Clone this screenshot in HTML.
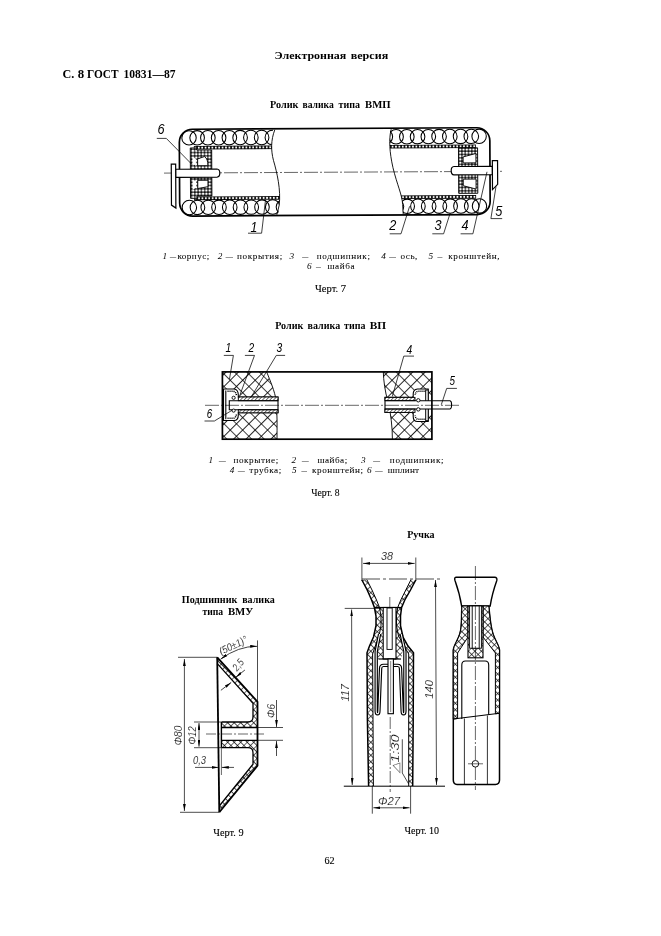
<!DOCTYPE html>
<html><head><meta charset="utf-8">
<style>
html,body{margin:0;padding:0;background:#fff;}
body{width:661px;height:936px;overflow:hidden;position:relative;}
svg{position:absolute;left:0;top:0;will-change:transform;}
</style></head><body>
<svg width="661" height="936" viewBox="0 0 661 936">

<defs>
 <pattern id="dots" width="3.3" height="3.3" patternUnits="userSpaceOnUse">
  <rect width="3.3" height="3.3" fill="#111"/>
  <circle cx="1.65" cy="1.65" r="1.3" fill="#fff"/>
 </pattern>
 <pattern id="dotsb" width="3.4" height="3.614" patternUnits="userSpaceOnUse" y="145.2">
  <rect width="3.4" height="3.614" fill="#000"/>
  <circle cx="1.7" cy="1.807" r="1.05" fill="#fff"/>
 </pattern>
 <pattern id="xh" width="8.8" height="8.8" patternUnits="userSpaceOnUse" patternTransform="rotate(45)">
  <rect width="8.8" height="8.8" fill="#fff"/>
  <path d="M0,0 L8.8,0 M0,0 L0,8.8" stroke="#000" stroke-width="1.7"/>
 </pattern>
 <pattern id="xs" width="4.6" height="4.6" patternUnits="userSpaceOnUse" patternTransform="rotate(45)">
  <rect width="4.6" height="4.6" fill="#fff"/>
  <path d="M0,0 L4.6,0 M0,0 L0,4.6" stroke="#000" stroke-width="1.15"/>
 </pattern>
 <pattern id="hs" width="2.6" height="2.6" patternUnits="userSpaceOnUse" patternTransform="rotate(45)">
  <rect width="2.6" height="2.6" fill="#fff"/>
  <path d="M0,0 L0,2.6" stroke="#000" stroke-width="1.1"/>
 </pattern>
 <marker id="ar" viewBox="0 0 10 4" refX="10" refY="2" markerWidth="7" markerHeight="2.8" orient="auto" markerUnits="userSpaceOnUse">
  <path d="M0,0 L10,2 L0,4 z" fill="#000"/>
 </marker>
 <marker id="al" viewBox="0 0 10 4" refX="0" refY="2" markerWidth="7" markerHeight="2.8" orient="auto" markerUnits="userSpaceOnUse">
  <path d="M10,0 L0,2 L10,4 z" fill="#000"/>
 </marker>
</defs>

<text x='274.5' y='58.9' font-size='11.3' font-family='"Liberation Serif", serif' font-weight='bold' textLength='71.8' lengthAdjust='spacingAndGlyphs'>Электронная</text>
<text x='350.7' y='58.9' font-size='11.3' font-family='"Liberation Serif", serif' font-weight='bold' textLength='37.5' lengthAdjust='spacingAndGlyphs'>версия</text>
<text x='62.5' y='77.9' font-size='12' font-family='"Liberation Serif", serif' font-weight='bold' textLength='11.8' lengthAdjust='spacingAndGlyphs'>С.</text>
<text x='77.8' y='77.9' font-size='12' font-family='"Liberation Serif", serif' font-weight='bold' textLength='6.4' lengthAdjust='spacingAndGlyphs'>8</text>
<text x='87' y='77.9' font-size='12' font-family='"Liberation Serif", serif' font-weight='bold' textLength='31.6' lengthAdjust='spacingAndGlyphs'>ГОСТ</text>
<text x='123.5' y='77.9' font-size='12' font-family='"Liberation Serif", serif' font-weight='bold' textLength='52.1' lengthAdjust='spacingAndGlyphs'>10831—87</text>
<text x='270' y='107.8' font-size='10.8' font-family='"Liberation Serif", serif' font-weight='bold' textLength='28.5' lengthAdjust='spacingAndGlyphs'>Ролик</text>
<text x='302.5' y='107.8' font-size='10.8' font-family='"Liberation Serif", serif' font-weight='bold' textLength='31.3' lengthAdjust='spacingAndGlyphs'>валика</text>
<text x='338.5' y='107.8' font-size='10.8' font-family='"Liberation Serif", serif' font-weight='bold' textLength='21.5' lengthAdjust='spacingAndGlyphs'>типа</text>
<text x='365' y='107.8' font-size='10.8' font-family='"Liberation Serif", serif' font-weight='bold' textLength='25.6' lengthAdjust='spacingAndGlyphs'>ВМП</text>
<g transform="rotate(-0.3 335 172)">
<clipPath id="clipL"><path d="M150,120 L275,120 C271,140 271,150 273.5,160 C277,172 281,190 279,205 L276.6,225 L150,225 Z"/></clipPath>
<clipPath id="clipR"><path d="M520,120 L391.4,120 C389,140 389.5,152 393,168 C397,185 402,195 402.5,205 L403,225 L520,225 Z"/></clipPath>
<g clip-path="url(#clipL)">
<circle cx="189.2" cy="137.1" r="7.2" fill="none" stroke="#000" stroke-width="1.05"/><ellipse cx="197.30" cy="137.1" rx="7.3" ry="7.2" fill="none" stroke="#000" stroke-width="1.05"/><ellipse cx="208.05" cy="137.1" rx="7.3" ry="7.2" fill="none" stroke="#000" stroke-width="1.05"/><ellipse cx="218.80" cy="137.1" rx="7.3" ry="7.2" fill="none" stroke="#000" stroke-width="1.05"/><ellipse cx="229.55" cy="137.1" rx="7.3" ry="7.2" fill="none" stroke="#000" stroke-width="1.05"/><ellipse cx="240.30" cy="137.1" rx="7.3" ry="7.2" fill="none" stroke="#000" stroke-width="1.05"/><ellipse cx="251.05" cy="137.1" rx="7.3" ry="7.2" fill="none" stroke="#000" stroke-width="1.05"/><ellipse cx="261.80" cy="137.1" rx="7.3" ry="7.2" fill="none" stroke="#000" stroke-width="1.05"/><ellipse cx="272.55" cy="137.1" rx="7.3" ry="7.2" fill="none" stroke="#000" stroke-width="1.05"/><ellipse cx="283.30" cy="137.1" rx="7.3" ry="7.2" fill="none" stroke="#000" stroke-width="1.05"/>
<circle cx="189.2" cy="206.70000000000002" r="7.2" fill="none" stroke="#000" stroke-width="1.05"/><ellipse cx="197.30" cy="206.70000000000002" rx="7.3" ry="7.2" fill="none" stroke="#000" stroke-width="1.05"/><ellipse cx="208.05" cy="206.70000000000002" rx="7.3" ry="7.2" fill="none" stroke="#000" stroke-width="1.05"/><ellipse cx="218.80" cy="206.70000000000002" rx="7.3" ry="7.2" fill="none" stroke="#000" stroke-width="1.05"/><ellipse cx="229.55" cy="206.70000000000002" rx="7.3" ry="7.2" fill="none" stroke="#000" stroke-width="1.05"/><ellipse cx="240.30" cy="206.70000000000002" rx="7.3" ry="7.2" fill="none" stroke="#000" stroke-width="1.05"/><ellipse cx="251.05" cy="206.70000000000002" rx="7.3" ry="7.2" fill="none" stroke="#000" stroke-width="1.05"/><ellipse cx="261.80" cy="206.70000000000002" rx="7.3" ry="7.2" fill="none" stroke="#000" stroke-width="1.05"/><ellipse cx="272.55" cy="206.70000000000002" rx="7.3" ry="7.2" fill="none" stroke="#000" stroke-width="1.05"/><ellipse cx="283.30" cy="206.70000000000002" rx="7.3" ry="7.2" fill="none" stroke="#000" stroke-width="1.05"/>
<rect x="194" y="145.2" width="90" height="3.6" fill="url(#dotsb)"/>
<rect x="194" y="195.8" width="90" height="3.6" fill="url(#dotsb)"/>
</g>
<g clip-path="url(#clipR)">
<circle cx="479.3" cy="137.1" r="7.2" fill="none" stroke="#000" stroke-width="1.05"/><ellipse cx="471.50" cy="137.1" rx="7.3" ry="7.2" fill="none" stroke="#000" stroke-width="1.05"/><ellipse cx="460.75" cy="137.1" rx="7.3" ry="7.2" fill="none" stroke="#000" stroke-width="1.05"/><ellipse cx="450.00" cy="137.1" rx="7.3" ry="7.2" fill="none" stroke="#000" stroke-width="1.05"/><ellipse cx="439.25" cy="137.1" rx="7.3" ry="7.2" fill="none" stroke="#000" stroke-width="1.05"/><ellipse cx="428.50" cy="137.1" rx="7.3" ry="7.2" fill="none" stroke="#000" stroke-width="1.05"/><ellipse cx="417.75" cy="137.1" rx="7.3" ry="7.2" fill="none" stroke="#000" stroke-width="1.05"/><ellipse cx="407.00" cy="137.1" rx="7.3" ry="7.2" fill="none" stroke="#000" stroke-width="1.05"/><ellipse cx="396.25" cy="137.1" rx="7.3" ry="7.2" fill="none" stroke="#000" stroke-width="1.05"/><ellipse cx="385.50" cy="137.1" rx="7.3" ry="7.2" fill="none" stroke="#000" stroke-width="1.05"/>
<circle cx="479.3" cy="206.70000000000002" r="7.2" fill="none" stroke="#000" stroke-width="1.05"/><ellipse cx="471.50" cy="206.70000000000002" rx="7.3" ry="7.2" fill="none" stroke="#000" stroke-width="1.05"/><ellipse cx="460.75" cy="206.70000000000002" rx="7.3" ry="7.2" fill="none" stroke="#000" stroke-width="1.05"/><ellipse cx="450.00" cy="206.70000000000002" rx="7.3" ry="7.2" fill="none" stroke="#000" stroke-width="1.05"/><ellipse cx="439.25" cy="206.70000000000002" rx="7.3" ry="7.2" fill="none" stroke="#000" stroke-width="1.05"/><ellipse cx="428.50" cy="206.70000000000002" rx="7.3" ry="7.2" fill="none" stroke="#000" stroke-width="1.05"/><ellipse cx="417.75" cy="206.70000000000002" rx="7.3" ry="7.2" fill="none" stroke="#000" stroke-width="1.05"/><ellipse cx="407.00" cy="206.70000000000002" rx="7.3" ry="7.2" fill="none" stroke="#000" stroke-width="1.05"/><ellipse cx="396.25" cy="206.70000000000002" rx="7.3" ry="7.2" fill="none" stroke="#000" stroke-width="1.05"/><ellipse cx="385.50" cy="206.70000000000002" rx="7.3" ry="7.2" fill="none" stroke="#000" stroke-width="1.05"/>
<rect x="380" y="145.2" width="96" height="3.6" fill="url(#dotsb)"/>
<rect x="380" y="195.8" width="96" height="3.6" fill="url(#dotsb)"/>
</g>
<path d="M190.4,147.2 L196.8,147.2 L196.8,149.3 L211.8,149.3 L211.8,195.3 L196.8,195.3 L196.8,197.6 L190.4,197.6 Z" fill="url(#dots)" stroke="#000" stroke-width="0.9"/>
<path d="M192.6,156.2 L196,158 L196,165 L192.6,163 Z" fill="#fff" stroke="none"/>
<path d="M192.6,179.8 L196,179.8 L196,187 L192.6,189 Z" fill="#fff" stroke="none"/>
<path d="M197.7,158.2 L204.5,155.9 C207.2,157.5 207.9,160.5 207.9,165 L197.7,165 Z" fill="#fff" stroke="#000" stroke-width="0.9"/>
<path d="M197.7,179.6 L207.9,179.6 L207.9,186 L197.7,187.8 Z" fill="#fff" stroke="#000" stroke-width="0.9"/>
<path d="M458.6,148.6 L477.7,148.6 L477.7,194 L458.6,194 Z" fill="url(#dots)" stroke="#000" stroke-width="0.9"/>
<path d="M463.2,157.6 L476,154.2 L476,163.6 L463.2,163.6 Z" fill="#fff" stroke="#000" stroke-width="0.9"/>
<path d="M463.2,179.8 L476,179.8 L476,189.8 L463.2,186.4 Z" fill="#fff" stroke="#000" stroke-width="0.9"/>
<rect x="179.5" y="128.5" width="310.5" height="86.80000000000001" rx="13" ry="13" fill="none" stroke="#000" stroke-width="1.7"/>
<path d="M275,129.5 C271,140 271,150 273.5,160 C277,172 281,190 279,205 L276.6,214.5" fill="none" stroke="#000" stroke-width="0.9" />
<path d="M391.4,129.5 C389,140 389.5,152 393,168 C397,185 402,195 402.5,205 L403,214.5" fill="none" stroke="#000" stroke-width="0.9" />
<path d="M164,172.2 L504,172.2" stroke="#000" stroke-width="0.6" stroke-dasharray="14,2,2,2" fill="none"/>
<path d="M175.6,168.4 L217,168.4 Q219.8,168.6 219.8,172.5 Q219.8,176.4 217,176.6 L175.6,176.6 Z" fill="#fff" stroke="#000" stroke-width="1.2"/>
<path d="M492.4,167.1 L454,167.1 Q451.2,167.3 451.2,171.3 Q451.2,175.3 454,175.5 L492.4,175.5 Z" fill="#fff" stroke="#000" stroke-width="1.2"/>
<path d="M171.3,163.2 L175.7,163.2 L175.7,207.2 L171.3,204.2 Z" fill="#fff" stroke="#000" stroke-width="1.2"/>
<path d="M492.4,161.4 L497.6,161.4 L497.6,185.2 L492.4,190.4 Z" fill="#fff" stroke="#000" stroke-width="1.2"/>
</g>
<text x='0' y='0' font-size='15.5' font-family='"Liberation Sans", sans-serif' font-style='italic' fill='#000' transform='translate(157.6,134.4) scale(0.82,1)'>6</text>
<text x='0' y='0' font-size='15' font-family='"Liberation Sans", sans-serif' font-style='italic' fill='#000' transform='translate(250.5,231.6) scale(0.82,1)'>1</text>
<text x='0' y='0' font-size='15.5' font-family='"Liberation Sans", sans-serif' font-style='italic' fill='#000' transform='translate(389.2,230.2) scale(0.82,1)'>2</text>
<text x='0' y='0' font-size='15.5' font-family='"Liberation Sans", sans-serif' font-style='italic' fill='#000' transform='translate(434.6,230.2) scale(0.82,1)'>3</text>
<text x='0' y='0' font-size='15.5' font-family='"Liberation Sans", sans-serif' font-style='italic' fill='#000' transform='translate(461.6,230.2) scale(0.82,1)'>4</text>
<text x='0' y='0' font-size='15.5' font-family='"Liberation Sans", sans-serif' font-style='italic' fill='#000' transform='translate(495.2,215.9) scale(0.82,1)'>5</text>
<path d="M156.80,138.40 L166.30,138.40 L192.00,164.50" fill="none" stroke="#000" stroke-width="0.75" />
<path d="M248.00,233.20 L261.60,233.20 L265.50,200.00" fill="none" stroke="#000" stroke-width="0.75" />
<path d="M389.70,233.80 L401.00,233.80 L409.60,206.30" fill="none" stroke="#000" stroke-width="0.75" />
<path d="M432.30,233.80 L443.60,233.80 L450.20,213.00" fill="none" stroke="#000" stroke-width="0.75" />
<path d="M460.60,233.80 L472.90,233.80 L487.00,171.80" fill="none" stroke="#000" stroke-width="0.75" />
<path d="M502.20,218.60 L490.90,218.60 L496.00,186.50" fill="none" stroke="#000" stroke-width="0.75" />
<text x='162.6' y='259.3' font-size='9.2' font-family='"Liberation Serif", serif' font-style='italic'>1</text>
<text x='170' y='259.3' font-size='9.2' font-family='"Liberation Serif", serif' stroke='#000' stroke-width='0.06' textLength='6.0' lengthAdjust='spacingAndGlyphs'>–</text>
<text x='177.4' y='259.3' font-size='9.2' font-family='"Liberation Serif", serif' stroke='#000' stroke-width='0.06' textLength='31.8' lengthAdjust='spacing'>корпус;</text>
<text x='217.8' y='259.3' font-size='9.2' font-family='"Liberation Serif", serif' font-style='italic'>2</text>
<text x='225.8' y='259.3' font-size='9.2' font-family='"Liberation Serif", serif' stroke='#000' stroke-width='0.06' textLength='7.1' lengthAdjust='spacingAndGlyphs'>–</text>
<text x='237' y='259.3' font-size='9.2' font-family='"Liberation Serif", serif' stroke='#000' stroke-width='0.06' textLength='45.2' lengthAdjust='spacing'>покрытия;</text>
<text x='289.6' y='259.3' font-size='9.2' font-family='"Liberation Serif", serif' font-style='italic'>3</text>
<text x='302.3' y='259.3' font-size='9.2' font-family='"Liberation Serif", serif' stroke='#000' stroke-width='0.06' textLength='6.0' lengthAdjust='spacingAndGlyphs'>–</text>
<text x='316.8' y='259.3' font-size='9.2' font-family='"Liberation Serif", serif' stroke='#000' stroke-width='0.06' textLength='53.2' lengthAdjust='spacing'>подшипник;</text>
<text x='381.2' y='259.3' font-size='9.2' font-family='"Liberation Serif", serif' font-style='italic'>4</text>
<text x='389.2' y='259.3' font-size='9.2' font-family='"Liberation Serif", serif' stroke='#000' stroke-width='0.06' textLength='6.6' lengthAdjust='spacingAndGlyphs'>–</text>
<text x='400.5' y='259.3' font-size='9.2' font-family='"Liberation Serif", serif' stroke='#000' stroke-width='0.06' textLength='16.9' lengthAdjust='spacing'>ось,</text>
<text x='428.6' y='259.3' font-size='9.2' font-family='"Liberation Serif", serif' font-style='italic'>5</text>
<text x='437.5' y='259.3' font-size='9.2' font-family='"Liberation Serif", serif' stroke='#000' stroke-width='0.06' textLength='4.8' lengthAdjust='spacingAndGlyphs'>–</text>
<text x='448.2' y='259.3' font-size='9.2' font-family='"Liberation Serif", serif' stroke='#000' stroke-width='0.06' textLength='51.4' lengthAdjust='spacing'>кронштейн,</text>
<text x='307' y='269.2' font-size='9.2' font-family='"Liberation Serif", serif' font-style='italic'>6</text>
<text x='316' y='269.2' font-size='9.2' font-family='"Liberation Serif", serif' stroke='#000' stroke-width='0.06' textLength='4.8' lengthAdjust='spacingAndGlyphs'>–</text>
<text x='327.4' y='269.2' font-size='9.2' font-family='"Liberation Serif", serif' stroke='#000' stroke-width='0.06' textLength='27.1' lengthAdjust='spacing'>шайба</text>
<text x="315" y="292.4" font-size="10.5" font-family='"Liberation Serif", serif' textLength="31" lengthAdjust="spacingAndGlyphs" stroke="#000" stroke-width="0.12" >Черт. 7</text>
<text x='275.2' y='328.9' font-size='10.8' font-family='"Liberation Serif", serif' font-weight='bold' textLength='28.2' lengthAdjust='spacingAndGlyphs'>Ролик</text>
<text x='307.6' y='328.9' font-size='10.8' font-family='"Liberation Serif", serif' font-weight='bold' textLength='32.6' lengthAdjust='spacingAndGlyphs'>валика</text>
<text x='344' y='328.9' font-size='10.8' font-family='"Liberation Serif", serif' font-weight='bold' textLength='21.4' lengthAdjust='spacingAndGlyphs'>типа</text>
<text x='369.8' y='328.9' font-size='10.8' font-family='"Liberation Serif", serif' font-weight='bold' textLength='16.4' lengthAdjust='spacingAndGlyphs'>ВП</text>
<path d="M222.4,371.9 L266.6,371.9 C270,380 275,392 276,400 C277.5,415 277,428 277,439.2 L222.4,439.2 Z" fill="url(#xh)" stroke="none"/>
<path d="M431.9,371.9 L383.3,371.9 C383.5,380 385,392 388,401.5 C391,414 392.4,428 392.4,439.2 L431.9,439.2 Z" fill="url(#xh)" stroke="none"/>
<path d="M266.6,371.9 C270,380 275,392 276,400 C277.5,415 277,428 277,439.2" fill="none" stroke="#000" stroke-width="0.9" />
<path d="M383.3,371.9 C383.5,380 385,392 388,401.5 C391,414 392.4,428 392.4,439.2" fill="none" stroke="#000" stroke-width="0.9" />
<path d="M223.5,389 L234,389 Q238.3,389.5 238.3,395 L238.3,397 L278,397 L278,412.8 L238.3,412.8 L238.3,415 Q238.3,420.5 234,420.5 L223.5,420.5 Z" fill="#fff" stroke="#000" stroke-width="1.1"/>
<path d="M225.8,390.5 L225.8,419.2" stroke="#000" stroke-width="1.1" fill="none"/>
<path d="M227.5,391.3 L233.5,391.3 Q236.2,392 236.4,395.5 M227.5,418.3 L233.5,418.3 Q236.2,417.6 236.4,414" stroke="#000" stroke-width="1.5" stroke-dasharray="1.1,0.9" fill="none"/>
<rect x="238.3" y="397" width="39.7" height="3.7" fill="url(#hs)" stroke="#000" stroke-width="0.9"/>
<rect x="238.3" y="409.7" width="39.7" height="3.1" fill="url(#hs)" stroke="#000" stroke-width="0.9"/>
<path d="M229.3,400.7 L278,400.7 M229.3,409.7 L278,409.7 M229.3,400.2 L229.3,410.2" stroke="#000" stroke-width="1.1" fill="none"/>
<circle cx="233.6" cy="397.8" r="1.6" fill="#fff" stroke="#000" stroke-width="0.9"/>
<circle cx="233.6" cy="410.6" r="1.6" fill="#fff" stroke="#000" stroke-width="0.9"/>
<path d="M428.2,389 L417.5,389 Q413.2,389.5 413.2,394 L413.2,397.4 L385,397.4 L385,412.4 L413.2,412.4 L413.2,416.5 Q413.2,421.5 417.5,421.5 L428.2,421.5 Z" fill="#fff" stroke="#000" stroke-width="1.1"/>
<path d="M425.5,391.2 L418,391.2 Q415.4,391.8 415.2,395 M425.5,419.3 L418,419.3 Q415.4,418.7 415.2,415.5" stroke="#000" stroke-width="1.5" stroke-dasharray="1.1,0.9" fill="none"/>
<rect x="425.7" y="390" width="2.5" height="30.7" fill="#fff" stroke="#000" stroke-width="1"/>
<rect x="385" y="397.4" width="30" height="3.3" fill="url(#hs)" stroke="#000" stroke-width="0.9"/>
<rect x="385" y="409" width="30" height="3.4" fill="url(#hs)" stroke="#000" stroke-width="0.9"/>
<path d="M416.6,400.7 L450,400.7 Q451.6,401 451.6,404.8 Q451.6,408.7 450,409 L416.6,409" fill="#fff" stroke="#000" stroke-width="1.1"/>
<path d="M385,400.7 L416.6,400.7 M385,409 L416.6,409" stroke="#000" stroke-width="1" fill="none"/>
<circle cx="418.3" cy="400.3" r="1.7" fill="#fff" stroke="#000" stroke-width="0.9"/>
<circle cx="418.3" cy="409.4" r="1.7" fill="#fff" stroke="#000" stroke-width="0.9"/>
<path d="M205,405.3 L461,405.3" stroke="#000" stroke-width="0.6" stroke-dasharray="14,2,2,2" fill="none"/>
<rect x="222.4" y="371.9" width="209.49999999999997" height="67.30000000000001" fill="none" stroke="#000" stroke-width="1.7"/>
<text x='0' y='0' font-size='12.5' font-family='"Liberation Sans", sans-serif' font-style='italic' fill='#000' transform='translate(225.4,352.3) scale(0.82,1)'>1</text>
<text x='0' y='0' font-size='12.5' font-family='"Liberation Sans", sans-serif' font-style='italic' fill='#000' transform='translate(248.4,352.3) scale(0.82,1)'>2</text>
<text x='0' y='0' font-size='12.5' font-family='"Liberation Sans", sans-serif' font-style='italic' fill='#000' transform='translate(276.4,352.3) scale(0.82,1)'>3</text>
<text x='0' y='0' font-size='12' font-family='"Liberation Sans", sans-serif' font-style='italic' fill='#000' transform='translate(206.8,417.6) scale(0.82,1)'>6</text>
<text x='0' y='0' font-size='12.5' font-family='"Liberation Sans", sans-serif' font-style='italic' fill='#000' transform='translate(406.6,353.7) scale(0.82,1)'>4</text>
<text x='0' y='0' font-size='12' font-family='"Liberation Sans", sans-serif' font-style='italic' fill='#000' transform='translate(449.6,385.1) scale(0.82,1)'>5</text>
<path d="M223.80,355.40 L233.40,355.40 L229.50,379.00" fill="none" stroke="#000" stroke-width="0.75" />
<path d="M244.90,355.40 L254.50,355.40 L240.00,394.80" fill="none" stroke="#000" stroke-width="0.75" />
<path d="M285.10,355.40 L276.30,355.40 L250.70,397.80" fill="none" stroke="#000" stroke-width="0.75" />
<path d="M204.50,421.00 L214.40,421.00 L232.50,410.00" fill="none" stroke="#000" stroke-width="0.75" />
<path d="M414.00,356.10 L403.80,356.10 L392.30,396.50" fill="none" stroke="#000" stroke-width="0.75" />
<path d="M456.90,388.40 L446.70,388.40 L441.30,404.70" fill="none" stroke="#000" stroke-width="0.75" />
<text x='208.6' y='463.1' font-size='9.2' font-family='"Liberation Serif", serif' font-style='italic'>1</text>
<text x='219.1' y='463.1' font-size='9.2' font-family='"Liberation Serif", serif' stroke='#000' stroke-width='0.06' textLength='6.7' lengthAdjust='spacingAndGlyphs'>–</text>
<text x='233.5' y='463.1' font-size='9.2' font-family='"Liberation Serif", serif' stroke='#000' stroke-width='0.06' textLength='44.7' lengthAdjust='spacing'>покрытие;</text>
<text x='291.5' y='463.1' font-size='9.2' font-family='"Liberation Serif", serif' font-style='italic'>2</text>
<text x='302' y='463.1' font-size='9.2' font-family='"Liberation Serif", serif' stroke='#000' stroke-width='0.06' textLength='6.6' lengthAdjust='spacingAndGlyphs'>–</text>
<text x='317.5' y='463.1' font-size='9.2' font-family='"Liberation Serif", serif' stroke='#000' stroke-width='0.06' textLength='29.7' lengthAdjust='spacing'>шайба;</text>
<text x='361' y='463.1' font-size='9.2' font-family='"Liberation Serif", serif' font-style='italic'>3</text>
<text x='373.3' y='463.1' font-size='9.2' font-family='"Liberation Serif", serif' stroke='#000' stroke-width='0.06' textLength='6.7' lengthAdjust='spacingAndGlyphs'>–</text>
<text x='389.8' y='463.1' font-size='9.2' font-family='"Liberation Serif", serif' stroke='#000' stroke-width='0.06' textLength='53.8' lengthAdjust='spacing'>подшипник;</text>
<text x='229.8' y='473.4' font-size='9.2' font-family='"Liberation Serif", serif' font-style='italic'>4</text>
<text x='237.9' y='473.4' font-size='9.2' font-family='"Liberation Serif", serif' stroke='#000' stroke-width='0.06' textLength='6.7' lengthAdjust='spacingAndGlyphs'>–</text>
<text x='249.2' y='473.4' font-size='9.2' font-family='"Liberation Serif", serif' stroke='#000' stroke-width='0.06' textLength='32.0' lengthAdjust='spacing'>трубка;</text>
<text x='292' y='473.4' font-size='9.2' font-family='"Liberation Serif", serif' font-style='italic'>5</text>
<text x='301.4' y='473.4' font-size='9.2' font-family='"Liberation Serif", serif' stroke='#000' stroke-width='0.06' textLength='5.4' lengthAdjust='spacingAndGlyphs'>–</text>
<text x='312.1' y='473.4' font-size='9.2' font-family='"Liberation Serif", serif' stroke='#000' stroke-width='0.06' textLength='50.9' lengthAdjust='spacing'>кронштейн;</text>
<text x='367' y='473.4' font-size='9.2' font-family='"Liberation Serif", serif' font-style='italic'>6</text>
<text x='375.3' y='473.4' font-size='9.2' font-family='"Liberation Serif", serif' stroke='#000' stroke-width='0.06' textLength='7.3' lengthAdjust='spacingAndGlyphs'>–</text>
<text x='387.8' y='473.4' font-size='9.2' font-family='"Liberation Serif", serif' stroke='#000' stroke-width='0.06' textLength='31.2' lengthAdjust='spacing'>шплинт</text>
<text x="311.3" y="496" font-size="10.5" font-family='"Liberation Serif", serif' textLength="28.4" lengthAdjust="spacingAndGlyphs" stroke="#000" stroke-width="0.12" >Черт. 8</text>
<text x='181.8' y='602.9' font-size='10.8' font-family='"Liberation Serif", serif' font-weight='bold' textLength='55.6' lengthAdjust='spacingAndGlyphs'>Подшипник</text>
<text x='242.2' y='602.9' font-size='10.8' font-family='"Liberation Serif", serif' font-weight='bold' textLength='32.6' lengthAdjust='spacingAndGlyphs'>валика</text>
<text x='202.5' y='615.3' font-size='10.8' font-family='"Liberation Serif", serif' font-weight='bold' textLength='20.7' lengthAdjust='spacingAndGlyphs'>типа</text>
<text x='227.9' y='615.3' font-size='10.8' font-family='"Liberation Serif", serif' font-weight='bold' textLength='25.4' lengthAdjust='spacingAndGlyphs'>ВМУ</text>
<path d="M217.2,657.3 L257.5,701.8 L257.5,727.5 L221.4,727.5 L221.4,722 L248,722 Q253,722 253,717 L253,703.3 L217.3,663.6 Z" fill="url(#xs)" stroke="none"/>
<path d="M221.4,740.3 L257.5,740.3 L257.5,765.7 L219.3,812.3 L219.3,806 L253,764.2 L253,752.7 Q253,747.7 248,747.7 L221.4,747.7 Z" fill="url(#xs)" stroke="none"/>
<path d="M217.2,657.3 L257.5,701.8 L257.5,765.7 L219.3,812.3" fill="none" stroke="#000" stroke-width="1.8" />
<path d="M217.3,663.6 L253.0,703.3 L253.0,717 Q253,722 248,722 L221.4,722" fill="none" stroke="#000" stroke-width="1.3" />
<path d="M221.4,747.7 L248,747.7 Q253,747.7 253,752.7 L253.0,764.2 L219.3,806" fill="none" stroke="#000" stroke-width="1.3" />
<path d="M221.40,727.50 L257.50,727.50" fill="none" stroke="#000" stroke-width="1.3" />
<path d="M221.40,740.30 L257.50,740.30" fill="none" stroke="#000" stroke-width="1.3" />
<path d="M217.20,657.30 L219.30,812.30" fill="none" stroke="#000" stroke-width="1.8" />
<path d="M221.40,722.00 L221.40,747.70" fill="none" stroke="#000" stroke-width="1.4" />
<path d="M206,734 L266,734" stroke="#000" stroke-width="0.6" stroke-dasharray="10,2,2,2" fill="none"/>
<path d="M178.00,657.30 L217.00,657.30" fill="none" stroke="#000" stroke-width="0.7" />
<path d="M180.00,812.30 L219.00,812.30" fill="none" stroke="#000" stroke-width="0.7" />
<path d="M184.4,659 L184.4,811" stroke="#000" stroke-width="0.7" marker-start="url(#al)" marker-end="url(#ar)" fill="none"/>
<path d="M194.00,722.00 L221.00,722.00" fill="none" stroke="#000" stroke-width="0.7" />
<path d="M194.00,747.70 L221.00,747.70" fill="none" stroke="#000" stroke-width="0.7" />
<path d="M199,723 L199,746.7" stroke="#000" stroke-width="0.7" marker-start="url(#al)" marker-end="url(#ar)" fill="none"/>
<path d="M257.50,727.50 L283.00,727.50" fill="none" stroke="#000" stroke-width="0.7" />
<path d="M257.50,740.30 L283.00,740.30" fill="none" stroke="#000" stroke-width="0.7" />
<path d="M276.5,700 L276.5,727" stroke="#000" stroke-width="0.7" marker-end="url(#ar)" fill="none"/>
<path d="M276.5,756 L276.5,741" stroke="#000" stroke-width="0.7" marker-end="url(#ar)" fill="none"/>
<path d="M195,767.4 L218.5,767.4" stroke="#000" stroke-width="0.7" marker-end="url(#ar)" fill="none"/>
<path d="M234,767.4 L221.8,767.4" stroke="#000" stroke-width="0.7" marker-end="url(#ar)" fill="none"/>
<path d="M221.40,748.00 L221.40,775.00" fill="none" stroke="#000" stroke-width="0.6" />
<path d="M257.50,640.40 L257.50,701.80" fill="none" stroke="#000" stroke-width="0.7" />
<path d="M220.6,659.2 Q238.2,646.1 257.2,646.3" stroke="#000" stroke-width="0.75" marker-start="url(#al)" marker-end="url(#ar)" fill="none"/>
<path d="M220.9,690.3 L231.2,682.4" stroke="#000" stroke-width="0.75" marker-end="url(#ar)" fill="none"/>
<path d="M244.9,670 L235.6,677.4" stroke="#000" stroke-width="0.75" marker-end="url(#ar)" fill="none"/>
<text x='0' y='0' font-size='10.5' font-family='"Liberation Sans", sans-serif' font-style='italic' text-anchor='middle' stroke='#fff' stroke-width='0.15' transform='translate(181.5,735.5) rotate(-90) scale(0.82,1)' textLength="24.4" lengthAdjust="spacingAndGlyphs">Φ80</text>
<text x='0' y='0' font-size='10.5' font-family='"Liberation Sans", sans-serif' font-style='italic' text-anchor='middle' stroke='#fff' stroke-width='0.15' transform='translate(196,735.5) rotate(-90) scale(0.82,1)' textLength="22.0" lengthAdjust="spacingAndGlyphs">Φ12</text>
<text x='0' y='0' font-size='10.5' font-family='"Liberation Sans", sans-serif' font-style='italic' text-anchor='middle' stroke='#fff' stroke-width='0.15' transform='translate(274.5,711) rotate(-90) scale(0.82,1)' textLength="17.1" lengthAdjust="spacingAndGlyphs">Φ6</text>
<text x='0' y='0' font-size='10.5' font-family='"Liberation Sans", sans-serif' font-style='italic' text-anchor='middle' stroke='#fff' stroke-width='0.15' transform='translate(199.5,763.5) rotate(0) scale(0.82,1)' textLength="15.9" lengthAdjust="spacingAndGlyphs">0,3</text>
<text x='0' y='0' font-size='10.5' font-family='"Liberation Sans", sans-serif' font-style='italic' text-anchor='middle' stroke='#fff' stroke-width='0.15' transform='translate(234.8,648.6) rotate(-26) scale(0.82,1)' textLength="36.6" lengthAdjust="spacingAndGlyphs">(50±1)°</text>
<text x='0' y='0' font-size='10.5' font-family='"Liberation Sans", sans-serif' font-style='italic' text-anchor='middle' stroke='#fff' stroke-width='0.15' transform='translate(240.8,667.2) rotate(-50) scale(0.82,1)' textLength="14.6" lengthAdjust="spacingAndGlyphs">2,5</text>
<text x="213.3" y="835.7" font-size="10.5" font-family='"Liberation Serif", serif' textLength="30.3" lengthAdjust="spacingAndGlyphs" stroke="#000" stroke-width="0.12" >Черт. 9</text>
<text x='407.2' y='538.1' font-size='11.2' font-family='"Liberation Serif", serif' font-weight='bold' textLength='27.4' lengthAdjust='spacingAndGlyphs'>Ручка</text>
<path d="M361.90,580.00 L367.20,590.00 L371.60,600.00 L374.40,607.50 L376.00,616.00 L376.00,625.60 L373.50,637.00 L369.50,646.00 L367.00,652.80 L367.40,720.00 L368.60,786.00 L373.40,786.00 L373.00,720.00 L372.60,654.00 L376.00,644.00 L379.00,636.00 L381.00,625.60 L381.00,616.00 L379.50,607.50 L376.50,600.00 L372.00,590.00 L366.80,579.60 Z" fill="url(#xs)" stroke="none"/>
<path d="M415.80,580.00 L410.50,590.00 L404.80,600.00 L401.60,607.50 L400.50,616.00 L400.50,625.60 L403.00,637.00 L408.00,646.00 L413.50,652.80 L413.20,720.00 L412.70,786.00 L408.70,786.00 L408.70,720.00 L408.70,654.00 L403.00,644.00 L398.50,636.00 L396.50,625.60 L396.50,616.00 L397.70,607.50 L400.80,600.00 L405.80,590.00 L411.00,579.60 Z" fill="url(#xs)" stroke="none"/>
<path d="M374.4,607.5 L383.2,607.5 L383.2,659 L378.5,659 L376,650 L376,625.6 L376,616 Z" fill="url(#xs)" stroke="none"/>
<path d="M401.6,607.5 L396,607.5 L396,659 L401,659 L403,650 L400.5,625.6 L400.5,616 Z" fill="url(#xs)" stroke="none"/>
<path d="M361.90,580.00 L367.20,590.00 L371.60,600.00 L374.40,607.50 L376.00,616.00 L376.00,625.60 L373.50,637.00 L369.50,646.00 L367.00,652.80 L367.40,720.00 L368.60,786.00" fill="none" stroke="#000" stroke-width="1.5" />
<path d="M366.80,579.60 L372.00,590.00 L376.50,600.00 L379.50,607.50 L381.00,616.00 L381.00,625.60 L379.00,636.00 L376.00,644.00 L372.60,654.00 L373.00,720.00 L373.40,786.00" fill="none" stroke="#000" stroke-width="1.0" />
<path d="M415.80,580.00 L410.50,590.00 L404.80,600.00 L401.60,607.50 L400.50,616.00 L400.50,625.60 L403.00,637.00 L408.00,646.00 L413.50,652.80 L413.20,720.00 L412.70,786.00" fill="none" stroke="#000" stroke-width="1.5" />
<path d="M411.00,579.60 L405.80,590.00 L400.80,600.00 L397.70,607.50 L396.50,616.00 L396.50,625.60 L398.50,636.00 L403.00,644.00 L408.70,654.00 L408.70,720.00 L408.70,786.00" fill="none" stroke="#000" stroke-width="1.0" />
<path d="M374.40,607.50 L401.60,607.50" fill="none" stroke="#000" stroke-width="1.2" />
<rect x="383.2" y="607.5" width="12.8" height="51.5" fill="#fff" stroke="#000" stroke-width="1.1"/>
<rect x="387" y="608" width="5.2" height="41.4" fill="#fff" stroke="#000" stroke-width="0.9"/>
<path d="M378.50,659.00 L401.00,659.00" fill="none" stroke="#000" stroke-width="1.2" />
<path d="M379.6,634 L376.2,651.5 L376.2,711 Q376.2,713.8 377.5,713.8 Q378.9,713.8 378.9,711 L380.6,668.5 Q380.6,665.4 383.5,665.4 L397.6,665.4 Q400.5,665.4 400.5,668.5 L402.2,711 Q402.2,713.8 403.6,713.8 Q404.9,713.8 404.9,711 L404.9,651.5 L401.2,634" fill="none" stroke="#000" stroke-width="3.4" stroke-linejoin="round"/>
<path d="M379.6,634 L376.2,651.5 L376.2,711 Q376.2,713.8 377.5,713.8 Q378.9,713.8 378.9,711 L380.6,668.5 Q380.6,665.4 383.5,665.4 L397.6,665.4 Q400.5,665.4 400.5,668.5 L402.2,711 Q402.2,713.8 403.6,713.8 Q404.9,713.8 404.9,711 L404.9,651.5 L401.2,634" fill="none" stroke="#fff" stroke-width="1.1" stroke-linejoin="round"/>
<rect x="388" y="659" width="5.4" height="54.7" fill="#fff" stroke="#000" stroke-width="1.1"/>
<path d="M390.70,661.00 L390.70,712.00" fill="none" stroke="#000" stroke-width="0.5" />
<path d="M389.8,597 L389.8,608 M390.2,717 L390.2,792" stroke="#000" stroke-width="0.6" stroke-dasharray="12,2,2,2" fill="none"/>
<path d="M343.80,786.20 L445.00,786.20" fill="none" stroke="#000" stroke-width="1.0" />
<path d="M362,579 L443,579" stroke="#000" stroke-width="0.7" stroke-dasharray="18,3,3,3" fill="none"/>
<path d="M361.90,557.50 L361.90,581.00" fill="none" stroke="#000" stroke-width="0.7" />
<path d="M415.80,557.50 L415.80,581.00" fill="none" stroke="#000" stroke-width="0.7" />
<path d="M363,563.4 L414.7,563.4" stroke="#000" stroke-width="0.7" marker-start="url(#al)" marker-end="url(#ar)" fill="none"/>
<text x='0' y='0' font-size='10' font-family='"Liberation Sans", sans-serif' font-style='italic' text-anchor='middle' stroke='#fff' stroke-width='0.15' transform='translate(387,559.5) rotate(0) scale(0.82,1)' textLength="14.6" lengthAdjust="spacingAndGlyphs">38</text>
<path d="M344.70,608.40 L381.00,608.40" fill="none" stroke="#000" stroke-width="0.7" />
<path d="M351.6,609.5 L352.2,785" stroke="#000" stroke-width="0.7" marker-start="url(#al)" marker-end="url(#ar)" fill="none"/>
<text x='0' y='0' font-size='10' font-family='"Liberation Sans", sans-serif' font-style='italic' text-anchor='middle' stroke='#fff' stroke-width='0.15' transform='translate(349,692.8) rotate(-90) scale(0.82,1)' textLength="21.3" lengthAdjust="spacingAndGlyphs">117</text>
<path d="M435.5,580 L436.5,785" stroke="#000" stroke-width="0.7" marker-start="url(#al)" marker-end="url(#ar)" fill="none"/>
<text x='0' y='0' font-size='10' font-family='"Liberation Sans", sans-serif' font-style='italic' text-anchor='middle' stroke='#fff' stroke-width='0.15' transform='translate(433,689.4) rotate(-90) scale(0.82,1)' textLength="22.8" lengthAdjust="spacingAndGlyphs">140</text>
<path d="M372.30,786.00 L372.30,813.70" fill="none" stroke="#000" stroke-width="0.7" />
<path d="M410.60,786.00 L410.60,813.70" fill="none" stroke="#000" stroke-width="0.7" />
<path d="M373.3,807.8 L409.6,807.8" stroke="#000" stroke-width="0.7" marker-start="url(#al)" marker-end="url(#ar)" fill="none"/>
<text x='0' y='0' font-size='10' font-family='"Liberation Sans", sans-serif' font-style='italic' text-anchor='middle' stroke='#fff' stroke-width='0.15' transform='translate(389,805) rotate(0) scale(0.82,1)' textLength="26.8" lengthAdjust="spacingAndGlyphs">Φ27</text>
<text x='0' y='0' font-size='10' font-family='"Liberation Sans", sans-serif' font-style='italic' text-anchor='middle' stroke='#fff' stroke-width='0.15' transform='translate(399,754) rotate(-90) scale(0.82,1)' textLength="47.6" lengthAdjust="spacingAndGlyphs">△1:30</text>
<path d="M402.30,739.30 L402.30,773.00 L408.70,784.00" fill="none" stroke="#000" stroke-width="0.7" />
<text x="404.6" y="834" font-size="10.5" font-family='"Liberation Serif", serif' textLength="34.5" lengthAdjust="spacingAndGlyphs" stroke="#000" stroke-width="0.12" >Черт. 10</text>
<path d="M456,577.2 L494.6,577.2 Q497.5,577.4 496.8,580.5 Q492,594 490.2,606 L461.6,606 Q459.8,594 455,580.5 Q454,577.4 456,577.2 Z" fill="#fff" stroke="#000" stroke-width="1.4"/>
<path d="M462,606 C461,616 462.5,626 459.8,634 C457.8,640.5 454,645 453.3,650 L453.3,780 Q453.3,784.4 457,784.4 L495.5,784.4 Q499.5,784.4 499.5,780 L499.5,650 C498.8,645 495,640.5 493,634 C490.3,626 489.8,616 488.8,606" fill="none" stroke="#000" stroke-width="1.5"/>
<path d="M462,606 C461,616 462.5,626 459.8,634 C457.8,640.5 454,645 453.3,650 L453.3,719 L457.6,718.5 L457.6,653 L468,637 L468,606 Z" fill="url(#xs)" stroke="#000" stroke-width="1"/>
<path d="M488.8,606 C489.8,616 490.3,626 493,634 C495,640.5 498.8,645 499.5,650 L499.5,713.3 L495.4,713.8 L495.4,653 L483,637 L483,606 Z" fill="url(#xs)" stroke="#000" stroke-width="1"/>
<rect x="468" y="606" width="15" height="51.8" fill="url(#xs)" stroke="#000" stroke-width="1.1"/>
<rect x="469.6" y="606" width="11.8" height="42.2" fill="#fff" stroke="#000" stroke-width="0.9"/>
<rect x="472.2" y="606" width="7" height="42.2" fill="#fff" stroke="#000" stroke-width="0.9"/>
<path d="M461.8,719 L461.8,665 Q461.8,661 465.5,661 L485,661 Q488.7,661 488.7,665 L488.7,714.5" fill="#fff" stroke="#000" stroke-width="1.1"/>
<path d="M453.30,719.00 L499.50,713.30" fill="none" stroke="#000" stroke-width="1.1" />
<path d="M464.40,718.50 L464.40,784.40" fill="none" stroke="#000" stroke-width="0.8" />
<path d="M487.40,715.50 L487.40,784.40" fill="none" stroke="#000" stroke-width="0.8" />
<path d="M475.4,566 L475.4,790" stroke="#000" stroke-width="0.6" stroke-dasharray="14,2,2,2" fill="none"/>
<circle cx="475.4" cy="763.8" r="3.3" fill="#fff" stroke="#000" stroke-width="0.9"/>
<path d="M468.00,763.80 L483.00,763.80" fill="none" stroke="#000" stroke-width="0.6" />
<text x="324.5" y="864" font-size="10.5" font-family='"Liberation Serif", serif' textLength="10.2" lengthAdjust="spacingAndGlyphs" stroke="#000" stroke-width="0.12" >62</text>
</svg>
</body></html>
